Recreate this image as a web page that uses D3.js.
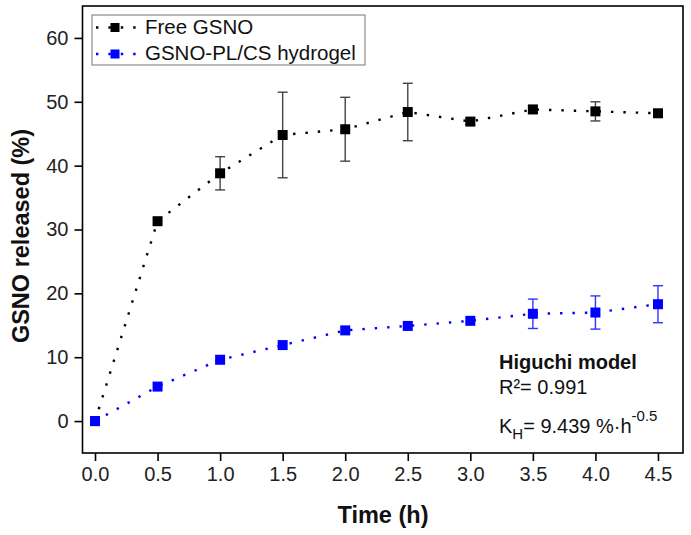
<!DOCTYPE html>
<html><head><meta charset="utf-8">
<script src="https://cdn.jsdelivr.net/npm/d3@7"></script>
<style>body{margin:0;background:#fff}svg{font-family:"Liberation Sans",Arial,sans-serif}</style>
</head><body>
<svg id="c" width="691" height="535"></svg>
<script>
const times = [0, 0.5, 1.0, 1.5, 2.0, 2.5, 3.0, 3.5, 4.0, 4.5];
const freeGSNO = [0, 31.3, 38.8, 44.8, 45.7, 48.4, 46.9, 48.8, 48.5, 48.2];
const freeErr = [0, 0, 2.6, 6.7, 5.0, 4.5, 0.5, 0.6, 1.5, 0.4];
const hydrogel = [0, 5.4, 9.6, 11.9, 14.2, 14.9, 15.7, 16.8, 17.0, 18.3];
const hydrogelErr = [0, 0, 0, 0, 0, 0, 0, 2.3, 2.6, 2.9];
const xTicks = [0, 0.5, 1.0, 1.5, 2.0, 2.5, 3.0, 3.5, 4.0, 4.5];
const yTicks = [0, 10, 20, 30, 40, 50, 60];
const seriesNames = ["Free GSNO", "GSNO-PL/CS hydrogel"];
const seriesColors = ["#000000", "#0000ff"];
const errColors = ["#444444", "#3333ff"];

const svg = d3.select("#c");
const L = 82.5, R = 683, T = 6, B = 453;
const x = d3.scaleLinear().domain([-0.1, 4.7]).range([L, R]);
const y = d3.scaleLinear().domain([-5, 65]).range([B, T]);

// frame
svg.append("rect").attr("x", L).attr("y", T).attr("width", R - L).attr("height", B - T)
  .attr("fill", "none").attr("stroke", "#000").attr("stroke-width", 1.6);

// axes
const xAxis = svg.append("g").attr("transform", `translate(0,${B})`)
  .call(d3.axisBottom(x).tickValues(xTicks).tickFormat(d3.format(".1f")).tickSize(8).tickPadding(6).tickSizeOuter(0));
const yAxis = svg.append("g").attr("transform", `translate(${L},0)`)
  .call(d3.axisLeft(y).tickValues(yTicks).tickFormat(d3.format("d")).tickSize(8).tickPadding(6).tickSizeOuter(0));
[xAxis, yAxis].forEach(g => {
  g.select(".domain").remove();
  g.selectAll(".tick line").attr("stroke", "#000").attr("stroke-width", 1.6);
  g.selectAll(".tick text").attr("font-size", 20).attr("fill", "#222")
    .attr("font-family", "'Liberation Sans', Arial, sans-serif");
});

// axis titles
svg.append("text").attr("x", 383).attr("y", 523).attr("text-anchor", "middle")
  .attr("font-size", 23.5).attr("font-weight", "bold").attr("fill", "#111").text("Time (h)");
svg.append("text").attr("transform", `translate(29,236) rotate(-90)`)
  .attr("text-anchor", "middle").attr("font-size", 23.5).attr("font-weight", "bold")
  .attr("fill", "#111").text("GSNO released (%)");

const series = [
  { vals: freeGSNO, err: freeErr },
  { vals: hydrogel, err: hydrogelErr }
];
const line = d3.line().x(d => x(d[0])).y(d => y(d[1]));

series.forEach((s, i) => {
  const pts = times.map((t, j) => [t, s.vals[j], s.err[j]]);
  const g = svg.append("g");
  g.append("path").attr("d", line(pts)).attr("fill", "none")
    .attr("stroke", seriesColors[i]).attr("stroke-width", 2.4)
    .attr("stroke-dasharray", "2.4,10").attr("stroke-linecap", "butt");
  pts.filter(p => p[2] > 0).forEach(p => {
    const cx = x(p[0]), y1 = y(p[1] + p[2]), y2 = y(p[1] - p[2]);
    g.append("line").attr("x1", cx).attr("x2", cx).attr("y1", y1).attr("y2", y2)
      .attr("stroke", errColors[i]).attr("stroke-width", 1.4);
    [y1, y2].forEach(yy => g.append("line").attr("x1", cx - 5).attr("x2", cx + 5)
      .attr("y1", yy).attr("y2", yy).attr("stroke", errColors[i]).attr("stroke-width", 1.4));
  });
  g.selectAll("rect").data(pts).enter().append("rect")
    .attr("x", d => x(d[0]) - 5).attr("y", d => y(d[1]) - 5)
    .attr("width", 10).attr("height", 10).attr("fill", seriesColors[i]);
});

// legend
const lg = svg.append("g");
lg.append("rect").attr("x", 92).attr("y", 15).attr("width", 273).attr("height", 50)
  .attr("fill", "#fff").attr("stroke", "#777").attr("stroke-width", 1);
seriesNames.forEach((n, i) => {
  const yy = 27.5 + i * 26.5;
  lg.append("line").attr("x1", 93).attr("x2", 142).attr("y1", yy).attr("y2", yy)
    .attr("stroke", seriesColors[i]).attr("stroke-width", 2.4).attr("stroke-dasharray", "2.4,10")
    .attr("stroke-dashoffset", -3);
  lg.append("rect").attr("x", 110.5).attr("y", yy - 4.5).attr("width", 9).attr("height", 9)
    .attr("fill", seriesColors[i]);
  lg.append("text").attr("x", 145).attr("y", yy + 6).attr("font-size", 20.5).attr("fill", "#111").text(n);
});

// annotation
const ann = svg.append("g").attr("fill", "#111");
ann.append("text").attr("x", 499).attr("y", 369).attr("font-size", 20).attr("font-weight", "bold").text("Higuchi model");
ann.append("text").attr("x", 499).attr("y", 394).attr("font-size", 20).text("R²= 0.991");
const kt = ann.append("text").attr("x", 499).attr("y", 433).attr("font-size", 20);
kt.append("tspan").text("K");
kt.append("tspan").attr("font-size", 15).attr("dy", 6).text("H");
kt.append("tspan").attr("dy", -6).text("= 9.439 %·h");
kt.append("tspan").attr("font-size", 15).attr("dy", -12).text("-0.5");
</script>
</body></html>
